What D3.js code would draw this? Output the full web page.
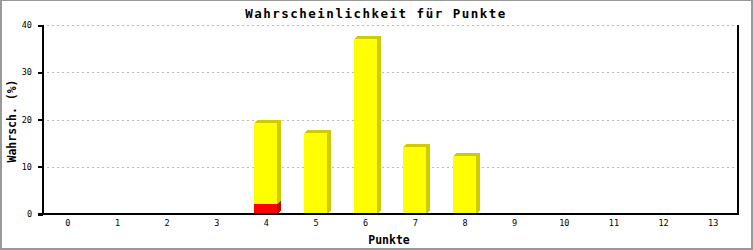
<!DOCTYPE html>
<html>
<head>
<meta charset="utf-8">
<script src="https://cdn.jsdelivr.net/npm/d3@7"></script>
<style>
  html, body { margin: 0; padding: 0; background: #fff; }
  svg { display: block; }
  text { font-family: "DejaVu Sans Mono", "Liberation Mono", monospace; fill: #000; }
</style>
</head>
<body>
<svg id="chart" width="753" height="250"></svg>
<script>
// ---- data ----
const categories = ["0","1","2","3","4","5","6","7","8","9","10","11","12","13"];
const redValues    = [0, 0, 0, 0, 2.1, 0, 0, 0, 0, 0, 0, 0, 0, 0];
const yellowValues = [0, 0, 0, 0, 17.2, 17.2, 37.0, 14.2, 12.3, 0, 0, 0, 0, 0];
const yTicks = [0, 10, 20, 30, 40];
const titleText = "Wahrscheinlichkeit für Punkte";
const xTitle = "Punkte";
const yTitle = "Wahrsch. (%)";

(function () {
// ---- layout ----
const W = 753, H = 250;
const pL = 43, pR = 738, pT = 25, pB = 214;
const svg = d3.select("#chart");

svg.append("rect").attr("x", 0).attr("y", 0).attr("width", W).attr("height", H).attr("fill", "#fff");

const x = d3.scaleBand().domain(categories).range([pL, pR]).padding(0);
const y = d3.scaleLinear().domain([0, 40]).range([pB, pT]);

// grid
svg.append("g").selectAll("line").data(yTicks.filter(d => d > 0)).join("line")
  .attr("x1", pL + 4).attr("x2", pR)
  .attr("y1", d => Math.round(y(d)) + 0.5).attr("y2", d => Math.round(y(d)) + 0.5)
  .attr("stroke", "#bbbbbb").attr("stroke-width", 1).attr("stroke-dasharray", "2,3")
  .attr("shape-rendering", "crispEdges");

// bars
const barW = 23, dx = 4, dy = 3;
function drawSeg(g, cat, v0, v1, face, side) {
  if (v1 - v0 <= 0) return;
  const x0 = Math.round(x(cat) + x.bandwidth() / 2 - 12);
  const x1 = x0 + barW;
  const yT = Math.round(y(v1)), yB = Math.round(y(v0));
  g.append("polygon")
    .attr("points", [[x0, yT], [x0 + dx, yT - dy], [x1 + dx, yT - dy], [x1 + dx, yB - dy], [x1, yB]].map(p => p.join(",")).join(" "))
    .attr("fill", side).attr("shape-rendering", "crispEdges");
  g.append("rect").attr("x", x0).attr("y", yT).attr("width", barW).attr("height", yB - yT)
    .attr("fill", face).attr("shape-rendering", "crispEdges");
}
const gb = svg.append("g");
categories.forEach((c, i) => {
  drawSeg(gb, c, 0, redValues[i], "#ff0000", "#cc0000");
});
categories.forEach((c, i) => {
  drawSeg(gb, c, redValues[i], redValues[i] + yellowValues[i], "#ffff00", "#cccc00");
});

// axes lines
const ga = svg.append("g").attr("shape-rendering", "crispEdges");
ga.append("line").attr("x1", pL).attr("x2", pL).attr("y1", pT).attr("y2", pB + 1)
  .attr("stroke", "#000").attr("stroke-width", 2);
ga.append("line").attr("x1", pR).attr("x2", pR).attr("y1", pT).attr("y2", pB + 1)
  .attr("stroke", "#000").attr("stroke-width", 2);
ga.append("line").attr("x1", 38).attr("x2", pR + 1).attr("y1", pB).attr("y2", pB)
  .attr("stroke", "#000").attr("stroke-width", 2);

// y axis ticks & labels
const yAxis = d3.axisLeft(y).tickValues(yTicks).tickSize(5).tickPadding(6).tickFormat(d3.format("d"));
const gy = svg.append("g").attr("transform", `translate(${pL},0)`).call(yAxis);
gy.select(".domain").remove();
gy.selectAll(".tick line").attr("stroke", "#000").attr("stroke-width", 2).attr("shape-rendering", "crispEdges");
gy.selectAll(".tick text").attr("font-family", "DejaVu Sans Mono, monospace").attr("font-size", 8.5).attr("fill", "#000");

// x axis labels
const xAxis = d3.axisBottom(x).tickSize(0).tickPadding(6);
const gx = svg.append("g").attr("transform", `translate(0,${pB})`).call(xAxis);
gx.select(".domain").remove();
gx.selectAll(".tick text").attr("font-family", "DejaVu Sans Mono, monospace").attr("font-size", 8.5).attr("fill", "#000");

// titles
svg.append("text").attr("x", 376).attr("y", 18).attr("text-anchor", "middle")
  .attr("font-size", 12.5).attr("font-weight", "bold").attr("letter-spacing", 1.5).text(titleText);
svg.append("text").attr("x", 389).attr("y", 244).attr("text-anchor", "middle")
  .attr("font-size", 11.5).attr("font-weight", "bold").text(xTitle);
svg.append("text").attr("transform", "translate(16,121) rotate(-90)").attr("text-anchor", "middle")
  .attr("font-size", 11.5).attr("font-weight", "bold").text(yTitle);

// outer border
const gbd = svg.append("g").attr("fill", "#999999").attr("shape-rendering", "crispEdges");
gbd.append("rect").attr("x", 0).attr("y", 0).attr("width", W).attr("height", 1);
gbd.append("rect").attr("x", 0).attr("y", 0).attr("width", 2).attr("height", H);
gbd.append("rect").attr("x", W - 2).attr("y", 0).attr("width", 2).attr("height", H);
gbd.append("rect").attr("x", 0).attr("y", H - 2).attr("width", W).attr("height", 2);
})();
</script>
</body>
</html>
